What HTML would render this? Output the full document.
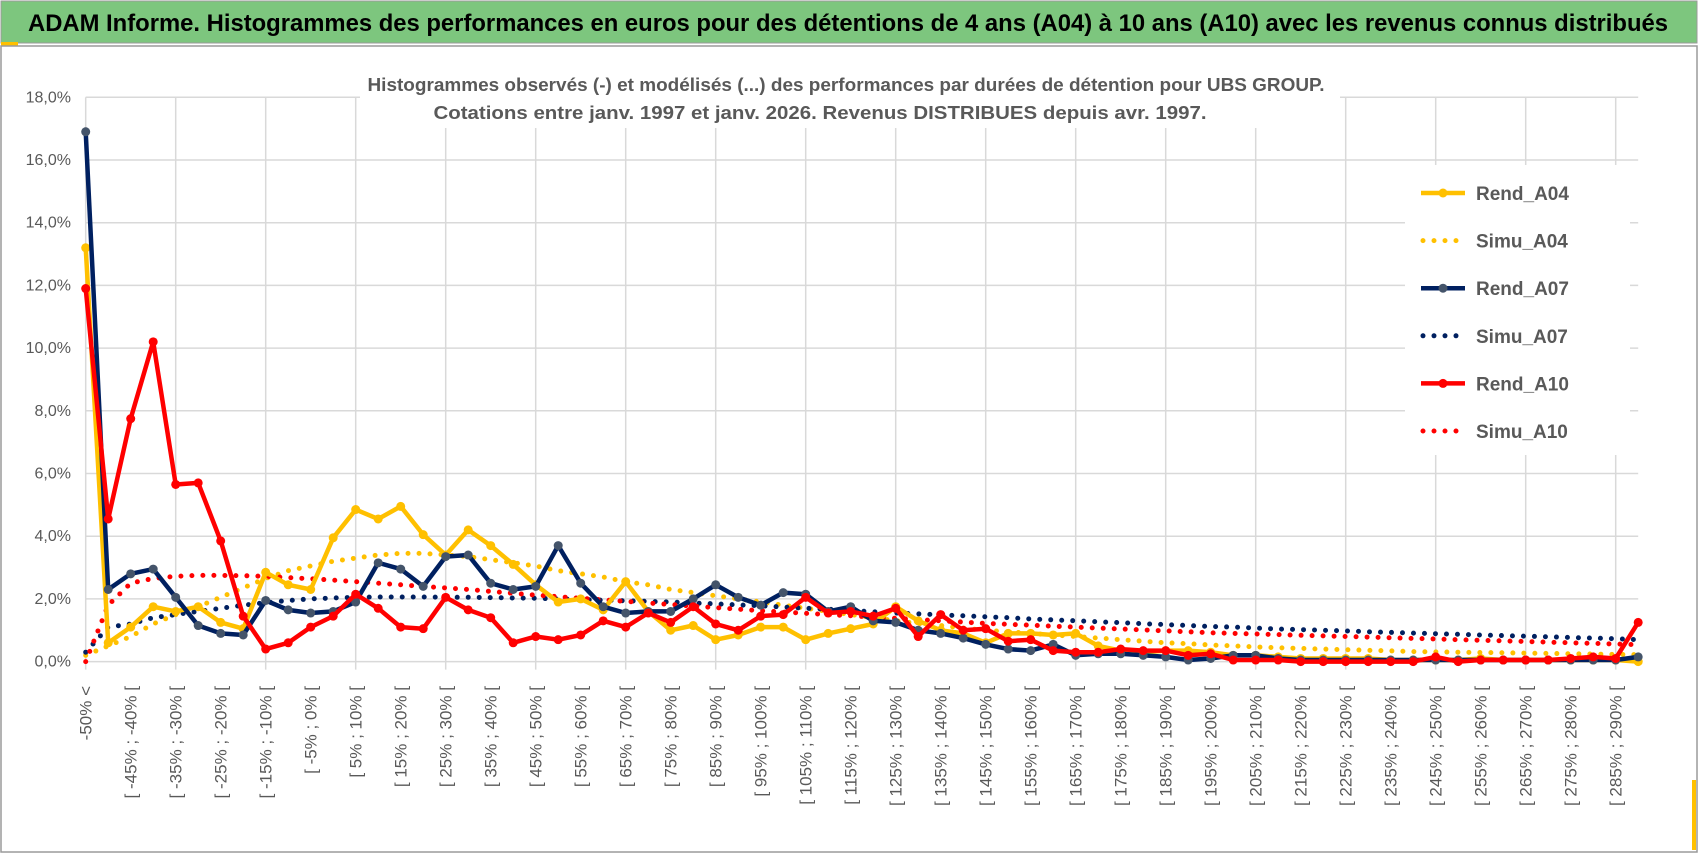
<!DOCTYPE html>
<html><head><meta charset="utf-8"><style>
body{margin:0;background:#fff;}
svg{display:block;font-family:"Liberation Sans",sans-serif;}
</style></head><body>
<svg id="c" width="1698" height="854" viewBox="0 0 1698 854">
<rect x="0" y="0" width="1698" height="854" fill="#fff"/>
<rect x="1" y="1" width="1696" height="42" fill="#7DC67E" stroke="#9a9a9a"/>
<rect x="1" y="42" width="17" height="4" fill="#FFC000"/>
<text x="848" y="31" text-anchor="middle" font-size="24" font-weight="bold" fill="#000" textLength="1640" lengthAdjust="spacingAndGlyphs">ADAM Informe. Histogrammes des performances en euros pour des détentions de 4 ans (A04) à 10 ans (A10) avec les revenus connus distribués</text>
<rect x="1" y="46" width="1696" height="806" fill="none" stroke="#9a9a9a" stroke-width="1.5"/>
<rect x="1692" y="780" width="4" height="70" fill="#FFC000"/>
<g id="grid"></g>
<rect x="360" y="64" width="980" height="64" fill="#fff"/>
<text x="846" y="91" text-anchor="middle" font-size="18" font-weight="bold" fill="#595959" textLength="957" lengthAdjust="spacingAndGlyphs">Histogrammes observés (-) et modélisés (...) des performances par durées de détention pour UBS GROUP.</text>
<text x="820" y="119" text-anchor="middle" font-size="18" font-weight="bold" fill="#595959" textLength="773" lengthAdjust="spacingAndGlyphs">Cotations entre janv. 1997 et janv. 2026. Revenus DISTRIBUES depuis avr. 1997.</text>
<rect x="1405" y="165" width="225" height="290" fill="#fff"/>
<g id="series"></g>
<g id="legend"></g>
<g id="axes"></g>
</svg>
<script>
const categories=["-50% <"];
for(let k=-50;k<295;k+=5){categories.push("[ "+k+"% ; "+(k+5)+"% [");}
const yTicks=[0,2,4,6,8,10,12,14,16,18];
const rendA04=[13.2,0.6,1.1,1.75,1.6,1.75,1.25,1.05,2.85,2.45,2.3,3.95,4.85,4.55,4.95,4.05,3.4,4.2,3.7,3.1,2.45,1.9,2.0,1.65,2.55,1.6,1.0,1.15,0.7,0.85,1.1,1.1,0.7,0.9,1.05,1.2,1.75,1.3,1.0,0.9,0.6,0.9,0.9,0.85,0.9,0.5,0.35,0.3,0.35,0.35,0.3,0.2,0.2,0.15,0.1,0.1,0.1,0.1,0.05,0.05,0.05,0.05,0.1,0.05,0.05,0.05,0.05,0.05,0.05,0.0];
const simuA04=[0.2,0.5,0.8,1.2,1.5,1.75,2.05,2.35,2.65,2.9,3.05,3.2,3.3,3.4,3.45,3.45,3.4,3.35,3.25,3.15,3.05,2.9,2.8,2.7,2.55,2.45,2.3,2.2,2.1,2.0,1.9,1.8,1.7,1.6,1.5,1.4,1.3,1.22,1.15,1.07,1.0,0.95,0.9,0.85,0.8,0.75,0.7,0.65,0.6,0.57,0.53,0.5,0.47,0.44,0.42,0.4,0.38,0.36,0.34,0.32,0.31,0.3,0.29,0.28,0.27,0.26,0.25,0.24,0.23,0.22];
const rendA07=[16.9,2.3,2.8,2.95,2.05,1.15,0.9,0.85,1.95,1.65,1.55,1.6,1.9,3.15,2.95,2.4,3.35,3.4,2.5,2.3,2.4,3.7,2.5,1.75,1.55,1.6,1.6,2.0,2.45,2.05,1.8,2.2,2.15,1.6,1.75,1.3,1.25,1.0,0.9,0.75,0.55,0.4,0.35,0.55,0.2,0.25,0.25,0.2,0.15,0.05,0.1,0.2,0.2,0.1,0.05,0.05,0.05,0.05,0.05,0.05,0.05,0.05,0.05,0.05,0.05,0.05,0.05,0.05,0.05,0.15];
const simuA07=[0.3,1.1,1.2,1.4,1.5,1.6,1.7,1.8,1.88,1.95,2.0,2.03,2.05,2.06,2.06,2.06,2.05,2.05,2.04,2.03,2.02,2.0,1.98,1.96,1.94,1.92,1.9,1.87,1.84,1.81,1.78,1.74,1.7,1.67,1.63,1.59,1.55,1.52,1.49,1.46,1.43,1.4,1.36,1.33,1.3,1.27,1.24,1.21,1.18,1.15,1.12,1.1,1.07,1.04,1.02,1.0,0.98,0.95,0.93,0.91,0.89,0.87,0.85,0.83,0.81,0.79,0.77,0.75,0.73,0.7];
const rendA10=[11.9,4.55,7.75,10.2,5.65,5.7,3.85,1.45,0.4,0.6,1.1,1.45,2.15,1.7,1.1,1.05,2.05,1.65,1.4,0.6,0.8,0.7,0.85,1.3,1.1,1.55,1.25,1.75,1.2,1.0,1.45,1.5,2.05,1.55,1.6,1.45,1.7,0.8,1.5,1.0,1.05,0.65,0.7,0.35,0.3,0.3,0.4,0.35,0.35,0.2,0.25,0.05,0.05,0.05,0.0,0.0,0.0,0.0,0.0,0.0,0.15,0.0,0.05,0.05,0.05,0.05,0.1,0.15,0.1,1.25];
const simuA10=[0.0,1.8,2.5,2.65,2.72,2.75,2.75,2.74,2.72,2.68,2.64,2.6,2.55,2.5,2.45,2.4,2.35,2.3,2.24,2.18,2.12,2.07,2.02,1.97,1.92,1.87,1.82,1.77,1.72,1.67,1.62,1.58,1.54,1.5,1.46,1.42,1.38,1.34,1.3,1.26,1.22,1.19,1.16,1.13,1.1,1.07,1.04,1.01,0.98,0.95,0.92,0.9,0.88,0.86,0.84,0.82,0.8,0.78,0.76,0.74,0.72,0.7,0.68,0.66,0.64,0.62,0.6,0.58,0.56,0.54];
const seriesNames=["Rend_A04","Simu_A04","Rend_A07","Simu_A07","Rend_A10","Simu_A10"];

const NS="http://www.w3.org/2000/svg";
const X0=85.7,DX=22.5,Y0=661.6,PX=31.35;
const xs=i=>X0+i*DX;
const ys=v=>Y0-v*PX;
function mk(tag,attrs,parent){const e=document.createElementNS(NS,tag);for(const k in attrs)e.setAttribute(k,attrs[k]);parent.appendChild(e);return e;}
const grid=document.getElementById('grid'),axes=document.getElementById('axes'),ser=document.getElementById('series'),leg=document.getElementById('legend');
const xEnd=xs(categories.length-1);
yTicks.forEach(t=>{
  const l=mk('line',{x1:X0,x2:xEnd,y1:ys(t),y2:ys(t),stroke:'#d9d9d9','stroke-width':1.5},grid);
  
  
  const tx=mk('text',{x:71,y:ys(t)+5,'text-anchor':'end','font-size':16,fill:'#595959'},axes);
  tx.textContent=t.toFixed(1).replace('.',',')+'%';
  
  
});
for(let i=0;i<categories.length;i+=4){
  const l=mk('line',{x1:xs(i),x2:xs(i),y1:ys(18),y2:Y0+8,stroke:'#d9d9d9','stroke-width':1.5},grid);
  
  
}
for(let i=0;i<categories.length;i+=2){
  const tx=mk('text',{x:0,y:0,'text-anchor':'end','font-size':17,fill:'#595959',transform:'translate('+(xs(i)+6)+',686) rotate(-90)'},axes);
  tx.textContent=categories[i];
  
  
}
function pts(arr){return arr.map((v,i)=>xs(i).toFixed(1)+','+ys(v).toFixed(1)).join(' ');}
function dotted(arr,color,name){
  const p=mk('polyline',{points:pts(arr),fill:'none',stroke:color,'stroke-width':5,'stroke-linecap':'round','stroke-dasharray':'0 11'},ser);
  
  
}
function solid(arr,color,mcolor,name){
  const p=mk('polyline',{points:pts(arr),fill:'none',stroke:color,'stroke-width':4.5,'stroke-linejoin':'round'},ser);
  
  
  arr.forEach((v,i)=>{
    const c=mk('circle',{cx:xs(i),cy:ys(v),r:4.5,fill:mcolor},ser);
    
    
  });
}
dotted(simuA04,'#FFC000','simu-a04-line');
dotted(simuA07,'#002060','simu-a07-line');
dotted(simuA10,'#FF0000','simu-a10-line');
solid(rendA04,'#FFC000','#FFC000','rend-a04-line');
solid(rendA07,'#002060','#44546A','rend-a07-line');
solid(rendA10,'#FF0000','#FF0000','rend-a10-line');
const legColors=['#FFC000','#FFC000','#002060','#002060','#FF0000','#FF0000'];
const legMark=['#FFC000',null,'#44546A',null,'#FF0000',null];
seriesNames.forEach((n,k)=>{
  const y=193+k*47.6;
  const g=mk('g',{},leg);
  
  
  if(k%2===0){
    mk('line',{x1:1421,x2:1465,y1:y,y2:y,stroke:legColors[k],'stroke-width':4.5},g);
    mk('circle',{cx:1443,cy:y,r:4.5,fill:legMark[k]},g);
  } else {
    mk('line',{x1:1423,x2:1465,y1:y,y2:y,stroke:legColors[k],'stroke-width':5,'stroke-linecap':'round','stroke-dasharray':'0 11'},g);
  }
  const t=mk('text',{x:1476,y:y+7,'font-size':19,'font-weight':'bold',fill:'#595959'},g);
  t.textContent=n;
});
</script>
</body></html>
